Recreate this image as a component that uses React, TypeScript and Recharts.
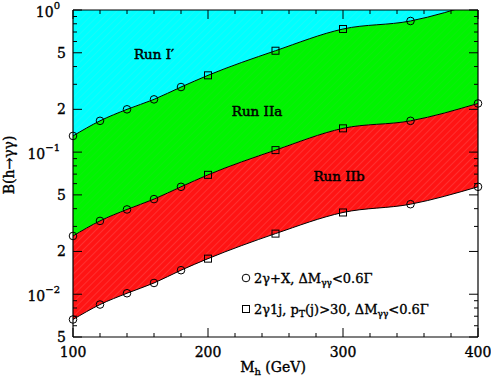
import { ComposedChart, Area, Line, XAxis, YAxis } from "recharts";

// Higgs mass points (GeV)
const mh = [100, 120, 140, 160, 180, 200, 250, 300, 350, 400];
// boundary curves of B(h->γγ)
const runI = [0.13, 0.166, 0.2, 0.235, 0.287, 0.347, 0.517, 0.735, 0.837, 1.13];
const runIIa = [0.0257, 0.0328, 0.0395, 0.0467, 0.057, 0.0692, 0.1033, 0.147, 0.166, 0.22];
const runIIb = [0.00664, 0.00846, 0.01016, 0.012, 0.01476, 0.0178, 0.0267, 0.0376, 0.043, 0.057];
const TOP = 2;

const xTicks = [100, 120, 140, 160, 180, 200, 220, 240, 260, 280, 300, 320, 340, 360, 380, 400];
const yTicks = [
  0.005, 0.006, 0.007, 0.008, 0.009,
  0.01, 0.02, 0.03, 0.04, 0.05, 0.06, 0.07, 0.08, 0.09,
  0.1, 0.2, 0.3, 0.4, 0.5, 0.6, 0.7, 0.8, 0.9, 1,
];

const data = mh.map((m, i) => ({
  mh: m,
  runI: runI[i],
  runIIa: runIIa[i],
  runIIb: runIIb[i],
  cyan: [runI[i], TOP],
  green: [runIIa[i], runI[i]],
  red: [runIIb[i], runIIa[i]],
}));

const FONT = "'DejaVu Serif', serif";
// slight stroke to thicken the serif text a bit
const INK = { fill: "#000", stroke: "#000", strokeWidth: 0.35 };

const splitTick = (v: number) => {
  const e = Math.floor(Math.log10(v) + 1e-9);
  const m = Math.round(v / Math.pow(10, e));
  return { e, m };
};

const Marker = (props: any) => {
  const { cx, cy, payload } = props;
  if (cx == null || cy == null) return null;
  const sq = payload.mh >= 200 && payload.mh <= 300;
  if (sq)
    return <rect x={cx - 3.5} y={cy - 3.5} width={7} height={7} fill="none" stroke="#000" strokeWidth={1} />;
  return <circle cx={cx} cy={cy} r={3.8} fill="none" stroke="#000" strokeWidth={1} />;
};

const YTick = (side: "left" | "right") => (props: any) => {
  const { x, y, payload } = props;
  const { e, m } = splitTick(payload.value);
  const labeled = m === 1 || m === 2 || m === 5;
  const len = labeled ? 9 : 4;
  const dir = side === "left" ? 1 : -1;
  return (
    <g>
      <line x1={x} x2={x + dir * len} y1={y} y2={y} stroke="#000" strokeWidth={1} />
      {side === "left" && m === 1 && (
        <text x={x - 13} y={y + 7} textAnchor="end" fontFamily={FONT} fontSize={14} {...INK}>
          <tspan>10</tspan>
          <tspan dy={-8} fontSize={10}>{e === 0 ? "0" : "\u2212" + Math.abs(e)}</tspan>
        </text>
      )}
      {side === "left" && (m === 2 || m === 5) && (
        <text x={x - 7} y={y + 5} textAnchor="end" fontFamily={FONT} fontSize={14} {...INK}>
          {m}
        </text>
      )}
    </g>
  );
};

const XTick = (side: "top" | "bottom") => (props: any) => {
  const { x, y, payload } = props;
  const major = payload.value % 100 === 0;
  const len = major ? 9 : 4;
  const dir = side === "bottom" ? -1 : 1;
  return (
    <g>
      <line x1={x} x2={x} y1={y} y2={y + dir * len} stroke="#000" strokeWidth={1} />
      {side === "bottom" && major && (
        <text x={x} y={y + 20} textAnchor="middle" fontFamily={FONT} fontSize={14} {...INK}>
          {payload.value}
        </text>
      )}
    </g>
  );
};

export default function App() {
  return (
    <div style={{ position: "absolute", left: 0, top: 0, width: 491, height: 383, background: "#fff" }}>
      <ComposedChart
        width={491}
        height={383}
        data={data}
        margin={{ top: 9, right: 12, bottom: 0, left: 0 }}
      >
        <defs>
          <pattern id="hCyan" width="5" height="5" patternUnits="userSpaceOnUse" patternTransform="rotate(45)">
            <rect width="5" height="5" fill="#00ffff" />
            <line x1="0" y1="0" x2="0" y2="5" stroke="#30f4f4" strokeWidth="1" />
          </pattern>
          <pattern id="hGreen" width="5" height="5" patternUnits="userSpaceOnUse" patternTransform="rotate(45)">
            <rect width="5" height="5" fill="#00f400" />
            <line x1="0" y1="0" x2="0" y2="5" stroke="#18e418" strokeWidth="1" />
          </pattern>
          <pattern id="hRed" width="5" height="5" patternUnits="userSpaceOnUse" patternTransform="rotate(45)">
            <rect width="5" height="5" fill="#ff1414" />
            <line x1="0" y1="0" x2="0" y2="5" stroke="#ff4c4c" strokeWidth="1" />
          </pattern>
        </defs>
        <XAxis
          dataKey="mh"
          type="number"
          domain={[100, 400]}
          ticks={xTicks}
          interval={0}
          height={46}
          tickSize={0}
          tickMargin={0}
          tickLine={false}
          tick={XTick("bottom")}
          axisLine={{ stroke: "#000", strokeWidth: 1.2 }}
        />
        <XAxis
          xAxisId="top"
          orientation="top"
          dataKey="mh"
          type="number"
          domain={[100, 400]}
          ticks={xTicks}
          interval={0}
          height={1}
          tickSize={0}
          tickMargin={0}
          tickLine={false}
          tick={XTick("top")}
          axisLine={{ stroke: "#000", strokeWidth: 1.2 }}
        />
        <YAxis
          type="number"
          scale="log"
          domain={[0.005, 1]}
          allowDataOverflow
          ticks={yTicks}
          interval={0}
          width={73}
          tickSize={0}
          tickMargin={0}
          tickLine={false}
          tick={YTick("left")}
          axisLine={{ stroke: "#000", strokeWidth: 1.2 }}
        />
        <YAxis
          yAxisId="right"
          orientation="right"
          type="number"
          scale="log"
          domain={[0.005, 1]}
          allowDataOverflow
          ticks={yTicks}
          interval={0}
          width={1}
          tickSize={0}
          tickMargin={0}
          tickLine={false}
          tick={YTick("right")}
          axisLine={{ stroke: "#000", strokeWidth: 1.2 }}
        />
        <Area dataKey="cyan" type="monotone" fill="url(#hCyan)" fillOpacity={1} stroke="none" isAnimationActive={false} />
        <Area dataKey="green" type="monotone" fill="url(#hGreen)" fillOpacity={1} stroke="none" isAnimationActive={false} />
        <Area dataKey="red" type="monotone" fill="url(#hRed)" fillOpacity={1} stroke="none" isAnimationActive={false} />
        <Line dataKey="runI" type="monotone" stroke="#000" strokeWidth={1} dot={<Marker />} isAnimationActive={false} />
        <Line dataKey="runIIa" type="monotone" stroke="#000" strokeWidth={1} dot={<Marker />} isAnimationActive={false} />
        <Line dataKey="runIIb" type="monotone" stroke="#000" strokeWidth={1} dot={<Marker />} isAnimationActive={false} />
        <Line xAxisId="top" yAxisId="right" dataKey="runIIa" stroke="none" dot={false} isAnimationActive={false} />
      </ComposedChart>
      <svg
        width={491}
        height={383}
        style={{ position: "absolute", left: 0, top: 0, pointerEvents: "none" }}
        fontFamily={FONT}
      >
        <text x={154} y={59} textAnchor="middle" fontSize={13.5} {...INK} strokeWidth={0.5}>Run  I′</text>
        <text x={257} y={116} textAnchor="middle" fontSize={13.5} {...INK} strokeWidth={0.5}>Run  IIa</text>
        <text x={339} y={181} textAnchor="middle" fontSize={13.5} {...INK} strokeWidth={0.5}>Run  IIb</text>
        <circle cx={246} cy={278} r={3.8} fill="none" stroke="#000" />
        <text x={254} y={283} fontSize={13} {...INK}>
          <tspan>2γ+X,  ΔM</tspan>
          <tspan dy={3} fontSize={9}>γγ</tspan>
          <tspan dy={-3}>&lt;0.6Γ</tspan>
        </text>
        <rect x={242.5} y={305.5} width={7} height={7} fill="none" stroke="#000" />
        <text x={254} y={314} fontSize={13} {...INK}>
          <tspan>2γ1j,  p</tspan>
          <tspan dy={3} fontSize={9}>T</tspan>
          <tspan dy={-3}>(j)&gt;30,  ΔM</tspan>
          <tspan dy={3} fontSize={9}>γγ</tspan>
          <tspan dy={-3}>&lt;0.6Γ</tspan>
        </text>
        <text x={273} y={372} textAnchor="middle" fontSize={14} {...INK}>
          <tspan>M</tspan>
          <tspan dy={3} fontSize={10}>h</tspan>
          <tspan dy={-3}> (GeV)</tspan>
        </text>
        <text x={14} y={165} textAnchor="middle" fontSize={14} {...INK} transform="rotate(-90 14 165)">
          B(h→γγ)
        </text>
      </svg>
    </div>
  );
}
